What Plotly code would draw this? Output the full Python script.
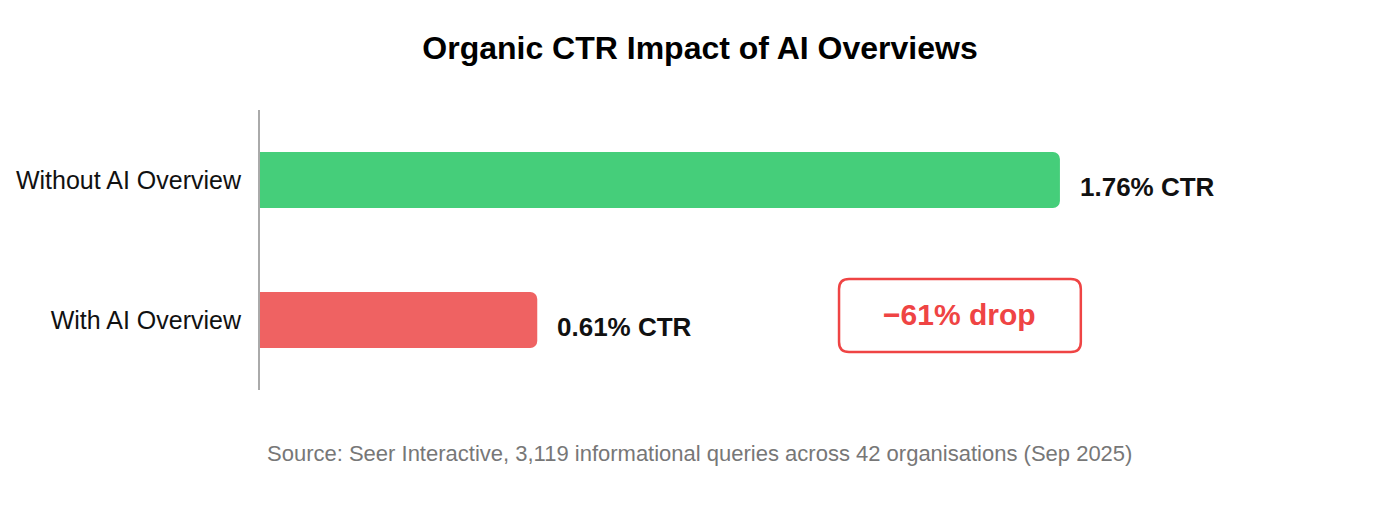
import plotly.graph_objects as go

categories = ["Without AI Overview", "With AI Overview"]
ctr_values = [1.76, 0.61]
value_labels = ["1.76% CTR", "0.61% CTR"]
bar_colors = ["#45CE7A", "#EF6262"]
drop_label = "\u221261% drop"
source_note = "Source: Seer Interactive, 3,119 informational queries across 42 organisations (Sep 2025)"

FONT = "Liberation Sans, Arial, Helvetica, sans-serif"

fig = go.Figure()
fig.add_trace(go.Bar(
    x=ctr_values,
    y=categories,
    orientation="h",
    marker=dict(color=bar_colors, line=dict(width=0)),
    width=0.4,
    hoverinfo="skip",
))

# value labels just past the bar ends
annotations = [
    dict(x=v, y=c, text=f"<b>{t}</b>", xref="x", yref="y", xanchor="left",
         showarrow=False, xshift=18, yshift=-7,
         font=dict(family=FONT, size=26, color="#111111"))
    for v, c, t in zip(ctr_values, categories, value_labels)
]
annotations.append(dict(
    x=0.484, y=-0.225, xref="paper", yref="paper", text=source_note, showarrow=False,
    xanchor="center", yanchor="middle", font=dict(family=FONT, size=22, color="#777777"),
))
annotations.append(dict(
    x=0.770, y=0.268, xref="paper", yref="paper", text=f"<b>{drop_label}</b>", showarrow=False,
    xanchor="center", yanchor="middle", font=dict(family=FONT, size=30, color="#EF4444"),
))

# rounded box around the drop label (paper coords of the plot area)
x0, x1, y0, y1 = 0.637, 0.903, 0.1357, 0.396
rx, ry = 10 / 909, 10 / 280
path = (f"M {x0+rx},{y0} L {x1-rx},{y0} Q {x1},{y0} {x1},{y0+ry} "
        f"L {x1},{y1-ry} Q {x1},{y1} {x1-rx},{y1} L {x0+rx},{y1} "
        f"Q {x0},{y1} {x0},{y1-ry} L {x0},{y0+ry} Q {x0},{y0} {x0+rx},{y0} Z")

fig.update_layout(
    width=1384,
    height=504,
    paper_bgcolor="white",
    plot_bgcolor="white",
    showlegend=False,
    barcornerradius=7,
    margin=dict(l=252, r=223, t=102, b=122, autoexpand=False),
    title=dict(text="<b>Organic CTR Impact of AI Overviews</b>", x=0.5, xanchor="center",
               y=0.921, yanchor="middle", font=dict(family=FONT, size=32, color="#000000")),
    xaxis=dict(range=[0, 2.0], showgrid=False, zeroline=False, showticklabels=False,
               showline=False, fixedrange=True),
    yaxis=dict(categoryorder="array", categoryarray=categories[::-1], showgrid=False,
               showline=True, linecolor="#AAAAAA", linewidth=2, ticks="",
               ticklabelstandoff=12, tickfont=dict(family=FONT, size=25, color="#111111"),
               fixedrange=True),
    annotations=annotations,
    shapes=[dict(type="path", path=path, xref="paper", yref="paper",
                 line=dict(color="#EF4444", width=2.5), fillcolor="rgba(0,0,0,0)")],
)

fig.write_html("out.html")
